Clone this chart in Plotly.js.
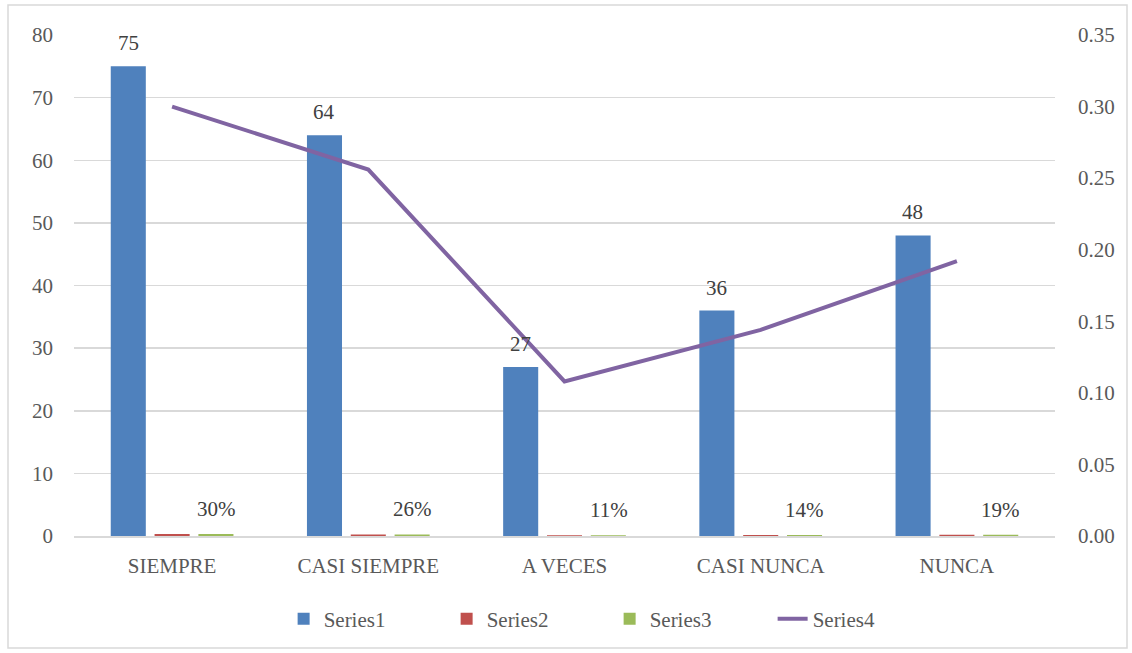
<!DOCTYPE html>
<html>
<head>
<meta charset="utf-8">
<script src="https://cdn.plot.ly/plotly-3.0.1.min.js"></script>
<style>
  html, body { margin: 0; padding: 0; background: #fff; }
  #chart { width: 1132px; height: 653px; }
</style>
</head>
<body>
<div id="chart"></div>
<script>
const categories = ["SIEMPRE", "CASI SIEMPRE", "A VECES", "CASI NUNCA", "NUNCA"];
const series1 = [75, 64, 27, 36, 48];
const series2 = [0.30, 0.256, 0.108, 0.144, 0.192];
const series3 = [0.30, 0.256, 0.108, 0.144, 0.192];
const series4 = [0.30, 0.256, 0.108, 0.144, 0.192];
const leftTicks = [0, 10, 20, 30, 40, 50, 60, 70, 80];
const rightTicks = [0, 0.05, 0.10, 0.15, 0.20, 0.25, 0.30, 0.35];

const FONT = "Liberation Serif, Times New Roman, serif";
const FS = 21;
const AXIS_COLOR = "#595959";
const LABEL_COLOR = "#404040";

const traces = [
  { type: "bar", name: "Series1", x: categories, y: series1, marker: { color: "#4F81BD" }, hoverinfo: "skip" },
  { type: "bar", name: "Series2", x: categories, y: series2, marker: { color: "#C0504D" }, hoverinfo: "skip" },
  { type: "bar", name: "Series3", x: categories, y: series3, marker: { color: "#9BBB59" }, hoverinfo: "skip" },
  { type: "scatter", mode: "lines", name: "Series4", x: categories, y: series4, yaxis: "y2",
    line: { color: "#8064A2", width: 4 }, hoverinfo: "skip" }
];

const annotations = [];
categories.forEach((c, i) => {
  annotations.push({
    x: c, y: series1[i], xref: "x", yref: "y", text: String(series1[i]),
    showarrow: false, xshift: -44, yshift: 23, yanchor: "middle",
    font: { family: FONT, size: FS, color: LABEL_COLOR }
  });
  annotations.push({
    x: c, y: series3[i], xref: "x", yref: "y", text: Math.round(series3[i] * 100) + "%",
    showarrow: false, xshift: 44, yshift: 25, yanchor: "middle",
    font: { family: FONT, size: FS, color: LABEL_COLOR }
  });
});

const layout = {
  width: 1132, height: 653,
  margin: { l: 74, r: 77, t: 35, b: 117, pad: 0 },
  paper_bgcolor: "#ffffff", plot_bgcolor: "#ffffff",
  font: { family: FONT, size: FS, color: AXIS_COLOR },
  barmode: "group", bargap: 0.33, bargroupgap: 0.2,
  showlegend: true,
  legend: { orientation: "h", x: 0.546, xanchor: "center", y: -0.166, yanchor: "middle",
            font: { family: FONT, size: FS, color: AXIS_COLOR }, traceorder: "normal",
            entrywidth: 118 },
  xaxis: { type: "category", showgrid: false, showline: true, linecolor: "#d9d9d9", linewidth: 2,
           ticks: "", ticklabelstandoff: 10, tickfont: { family: FONT, size: FS, color: AXIS_COLOR },
           fixedrange: true },
  yaxis: { range: [0, 80], tickvals: leftTicks, showgrid: true, gridcolor: "#d9d9d9", gridwidth: 1.5,
           zeroline: false, showline: false, ticks: "", ticklabelstandoff: 20,
           tickfont: { family: FONT, size: FS, color: AXIS_COLOR }, fixedrange: true },
  yaxis2: { range: [0, 0.35], tickvals: rightTicks, tickformat: ".2f", overlaying: "y", side: "right",
            showgrid: false, zeroline: false, showline: false, ticks: "", ticklabelstandoff: 22,
            tickfont: { family: FONT, size: FS, color: AXIS_COLOR }, fixedrange: true },
  annotations: annotations,
  shapes: [{ type: "rect", xref: "paper", yref: "paper",
             x0: (8 - 74) / 981, x1: (1127 - 74) / 981, y0: (536 - 648) / 501, y1: (536 - 5) / 501,
             line: { color: "#d9d9d9", width: 1.5 }, fillcolor: "rgba(0,0,0,0)", layer: "below" }]
};

Plotly.newPlot("chart", traces, layout, { displayModeBar: false, staticPlot: true });
</script>
</body>
</html>
